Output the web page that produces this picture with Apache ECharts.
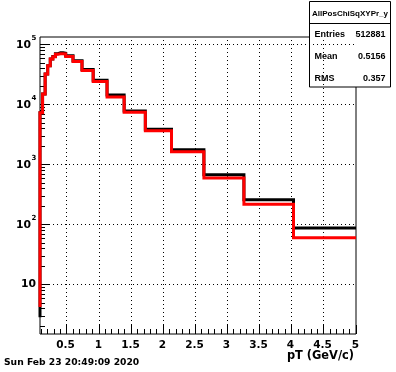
<!DOCTYPE html>
<html>
<head>
<meta charset="utf-8">
<script src="https://cdn.jsdelivr.net/npm/echarts@6/dist/echarts.min.js"></script>
<style>
html, body { margin: 0; padding: 0; background: #fff; }
#chart { width: 396px; height: 372px; }
</style>
</head>
<body>
<div id="chart"></div>
<script>
// bin edges in pT (GeV/c): 0.04 wide up to 0.48, log spaced above
const binEdges = [0.08, 0.12, 0.16, 0.20, 0.24, 0.28, 0.32, 0.36, 0.40, 0.44, 0.48,
    0.594, 0.734, 0.908, 1.124, 1.39, 1.72, 2.127, 2.632, 3.255, 4.027, 5.0];
const blackCounts = [7450, 15200, 32800, 45200, 58400, 64500, 71500, 74500, 74500, 73000,
    66000, 54500, 39000, 25800, 14700, 7940, 3940, 1800, 689, 264, 89];
const redCounts = [7450, 15200, 32800, 45200, 58400, 63800, 70000, 71600, 71600, 71000,
    64300, 53100, 37600, 24600, 13600, 7560, 3730, 1667, 607, 221, 61.4];
// content of the bin just left of the frame (only its edge shows)
const blackFirst = 2.9;
const redFirst = 4.3;

const xMajorTicks = [0.5, 1, 1.5, 2, 2.5, 3, 3.5, 4, 4.5, 5];
const xMajorLabels = ['0.5', '1', '1.5', '2', '2.5', '3', '3.5', '4', '4.5', '5'];
const xMinorTicks = [0.1, 0.2, 0.3, 0.4, 0.6, 0.7, 0.8, 0.9, 1.1, 1.2, 1.3, 1.4, 1.6, 1.7, 1.8, 1.9,
    2.1, 2.2, 2.3, 2.4, 2.6, 2.7, 2.8, 2.9, 3.1, 3.2, 3.3, 3.4, 3.6, 3.7, 3.8, 3.9,
    4.1, 4.2, 4.3, 4.4, 4.6, 4.7, 4.8, 4.9];
const yMajorTicks = [10, 100, 1000, 10000, 100000];
const yMinorTicks = [2, 3, 4, 5, 6, 7, 8, 9, 20, 30, 40, 50, 60, 70, 80, 90,
    200, 300, 400, 500, 600, 700, 800, 900, 2000, 3000, 4000, 5000, 6000, 7000, 8000, 9000,
    20000, 30000, 40000, 50000, 60000, 70000, 80000, 90000];

const X_MIN = 0.08, X_MAX = 5;
const Y_MIN = 1.525, Y_MAX = 135900;

const FONT = 'DejaVu Sans';
const STAT_FONT = 'bold 9px Liberation Sans';

function histPoints(edges, counts, first) {
    const pts = [[edges[0], first]];
    for (let i = 0; i < counts.length; i++) {
        pts.push([edges[i], counts[i]]);
        pts.push([edges[i + 1], counts[i]]);
    }
    return pts;
}

function crisp(v) {
    return Math.round(v - 0.5) + 0.5;
}

function yTickItem(len, withLabel) {
    return function (params, api) {
        const cs = params.coordSys;
        const val = api.value(1);
        const y = crisp(api.coord([X_MIN, val])[1]);
        const children = [{
            type: 'line',
            shape: { x1: cs.x, y1: y, x2: cs.x + len, y2: y },
            style: { stroke: '#000', lineWidth: 1 }
        }];
        if (withLabel) {
            children.push({
                type: 'line',
                shape: { x1: cs.x + len, y1: y, x2: cs.x + cs.width, y2: y },
                style: { stroke: '#000', lineWidth: 1, lineDash: [1, 3] }
            });
            const exp = Math.round(Math.log10(val));
            if (exp === 1) {
                children.push({
                    type: 'text',
                    style: { text: '10', x: cs.x - 4, y: y, align: 'right', verticalAlign: 'middle',
                        font: 'bold 10.8px ' + FONT, fill: '#000' }
                });
            } else {
                children.push({
                    type: 'text',
                    style: { text: '10', x: cs.x - 9, y: y + 0.5, align: 'right', verticalAlign: 'middle',
                        font: 'bold 10.8px ' + FONT, fill: '#000' }
                });
                children.push({
                    type: 'text',
                    style: { text: String(exp), x: cs.x - 8.5, y: y - 6, align: 'left', verticalAlign: 'middle',
                        font: 'bold 7px ' + FONT, fill: '#000' }
                });
            }
        }
        return { type: 'group', children: children };
    };
}

function xTickItem(len, withLabel) {
    return function (params, api) {
        const cs = params.coordSys;
        const val = api.value(0);
        const x = crisp(api.coord([val, Y_MIN])[0]);
        const bottom = cs.y + cs.height;
        const children = [{
            type: 'line',
            shape: { x1: x, y1: bottom, x2: x, y2: bottom - len },
            style: { stroke: '#000', lineWidth: 1 }
        }];
        if (withLabel) {
            if (val < X_MAX) {
                children.push({
                    type: 'line',
                    shape: { x1: x, y1: bottom - len, x2: x, y2: cs.y },
                    style: { stroke: '#000', lineWidth: 1, lineDash: [1, 3] }
                });
            }
            children.push({
                type: 'text',
                style: { text: xMajorLabels[params.dataIndex], x: x - 1, y: bottom + 11, align: 'center',
                    verticalAlign: 'middle', font: 'bold 10.5px ' + FONT, fill: '#000' }
            });
        }
        return { type: 'group', children: children };
    };
}

const chart = echarts.init(document.getElementById('chart'));

const option = {
    animation: false,
    grid: { left: 40, right: 40, top: 37, bottom: 38, show: true, borderColor: '#000', borderWidth: 1,
        backgroundColor: 'transparent' },
    xAxis: {
        type: 'value', min: X_MIN, max: X_MAX,
        axisLine: { show: false }, axisTick: { show: false }, axisLabel: { show: false },
        splitLine: { show: false }
    },
    yAxis: {
        type: 'log', logBase: 10, min: Y_MIN, max: Y_MAX,
        axisLine: { show: false }, axisTick: { show: false }, axisLabel: { show: false },
        splitLine: { show: false }, minorTick: { show: false }
    },
    series: [
        { type: 'custom', z: 1, silent: true, renderItem: yTickItem(9, true),
            data: yMajorTicks.map(v => [X_MIN, v]) },
        { type: 'custom', z: 1, silent: true, renderItem: yTickItem(5, false),
            data: yMinorTicks.map(v => [X_MIN, v]) },
        { type: 'custom', z: 1, silent: true, renderItem: xTickItem(9, true),
            data: xMajorTicks.map(v => [v, Y_MIN]) },
        { type: 'custom', z: 1, silent: true, renderItem: xTickItem(5, false),
            data: xMinorTicks.map(v => [v, Y_MIN]) },
        {
            name: 'black', type: 'line', z: 3, showSymbol: false, silent: true,
            data: histPoints(binEdges, blackCounts, blackFirst),
            lineStyle: { color: '#000', width: 3, join: 'miter' }
        },
        {
            name: 'red', type: 'line', z: 4, showSymbol: false, silent: true,
            data: histPoints(binEdges, redCounts, redFirst),
            lineStyle: { color: '#ff0000', width: 3, join: 'miter' }
        }
    ],
    graphic: [
        {
            type: 'text', right: 42, top: 351,
            style: { text: 'pT (GeV/c)', font: 'bold 11.4px ' + FONT, fill: '#000' }
        },
        {
            type: 'text', left: 4, top: 358,
            style: { text: 'Sun Feb 23 20:49:09 2020', font: 'bold 9.2px ' + FONT, fill: '#000' }
        },
        {
            type: 'group', left: 307, top: 1,
            children: [
                { type: 'rect', shape: { x: 0.5, y: 0.5, width: 81, height: 85.5 },
                    style: { fill: '#fff', stroke: '#000', lineWidth: 1 } },
                { type: 'line', shape: { x1: 0.5, y1: 22.5, x2: 81.5, y2: 22.5 },
                    style: { stroke: '#000', lineWidth: 1 } },
                { type: 'text', style: { text: 'AllPosChiSqXYPr_y', x: 41, y: 12.5, align: 'center',
                    verticalAlign: 'middle', font: 'bold 8px Liberation Sans', fill: '#000' } },
                { type: 'text', style: { text: 'Entries', x: 5.5, y: 34, align: 'left',
                    verticalAlign: 'middle', font: STAT_FONT, fill: '#000' } },
                { type: 'text', style: { text: '512881', x: 76.5, y: 34, align: 'right',
                    verticalAlign: 'middle', font: STAT_FONT, fill: '#000' } },
                { type: 'text', style: { text: 'Mean', x: 5.5, y: 56, align: 'left',
                    verticalAlign: 'middle', font: STAT_FONT, fill: '#000' } },
                { type: 'text', style: { text: '0.5156', x: 76.5, y: 56, align: 'right',
                    verticalAlign: 'middle', font: STAT_FONT, fill: '#000' } },
                { type: 'text', style: { text: 'RMS', x: 5.5, y: 78, align: 'left',
                    verticalAlign: 'middle', font: STAT_FONT, fill: '#000' } },
                { type: 'text', style: { text: '0.357', x: 76.5, y: 78, align: 'right',
                    verticalAlign: 'middle', font: STAT_FONT, fill: '#000' } }
            ]
        }
    ]
};

chart.setOption(option);
</script>
</body>
</html>
